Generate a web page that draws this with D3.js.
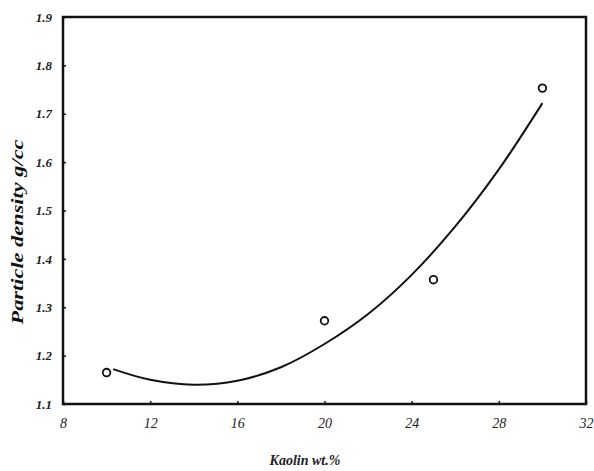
<!DOCTYPE html>
<html>
<head>
<meta charset="utf-8">
<title>Particle density vs kaolin</title>
<style>
  body { margin: 0; background: #fff; }
  text { font-family: "Liberation Serif", "DejaVu Serif", serif; font-style: italic; }
</style>
</head>
<body>
<script src="https://d3js.org/d3.v7.min.js"></script>
<script>
// measured points
const kaolin = [10, 20, 25, 30];
const density = [1.165, 1.272, 1.357, 1.753];

// fitted curve
const fitX = [10.3, 12, 14, 16, 18, 20, 22, 24, 26, 28, 30];
const fitY = [1.172, 1.15, 1.14, 1.148, 1.176, 1.224, 1.286, 1.367, 1.467, 1.585, 1.722];

const xTicks = [8, 12, 16, 20, 24, 28, 32];
const yTicks = [1.1, 1.2, 1.3, 1.4, 1.5, 1.6, 1.7, 1.8, 1.9];

const w = 594, h = 471;
const m = {left: 63, right: 8, top: 17, bottom: 67};

const svg = d3.select("body").append("svg")
  .attr("width", w)
  .attr("height", h);

const x = d3.scaleLinear().domain([8, 32]).range([m.left, w - m.right]);
const y = d3.scaleLinear().domain([1.1, 1.9]).range([h - m.bottom, m.top]);

// frame
svg.append("rect")
  .attr("x", x(8)).attr("y", y(1.9))
  .attr("width", x(32) - x(8))
  .attr("height", y(1.1) - y(1.9))
  .attr("fill", "none")
  .attr("stroke", "#111")
  .attr("stroke-width", 2.5);

// axes (ticks inward, labels only)
const xAxis = d3.axisBottom(x).tickValues(xTicks).tickSize(-3).tickPadding(11).tickFormat(d3.format("d"));
const yAxis = d3.axisLeft(y).tickValues(yTicks).tickSize(-3).tickPadding(11).tickFormat(d3.format(".1f"));

const gx = svg.append("g").attr("transform", `translate(0,${y(1.1)})`).call(xAxis);
const gy = svg.append("g").attr("transform", `translate(${x(8)},0)`).call(yAxis);

[gx, gy].forEach(g => {
  g.select(".domain").remove();
  g.selectAll("line").attr("stroke", "#111").attr("stroke-width", 1.5);
  g.selectAll("text")
    .attr("fill", "#222")
    .style("font-size", "13px")
    .style("font-family", "'Liberation Serif', serif")
    .style("font-style", "italic");
});
gy.selectAll("text").style("font-weight", "bold");
gx.selectAll("text").attr("dy", "0.9em").style("font-size", "14px");

// fitted curve
const line = d3.line()
  .x((d, i) => x(fitX[i]))
  .y(d => y(d))
  .curve(d3.curveCatmullRom);

svg.append("path")
  .datum(fitY)
  .attr("d", line)
  .attr("fill", "none")
  .attr("stroke", "#111")
  .attr("stroke-width", 2);

// data points
svg.selectAll("circle.pt")
  .data(density)
  .enter()
  .append("circle")
  .attr("class", "pt")
  .attr("cx", (d, i) => x(kaolin[i]))
  .attr("cy", d => y(d))
  .attr("r", 3.8)
  .attr("fill", "#fff")
  .attr("stroke", "#111")
  .attr("stroke-width", 1.8);

// axis titles
svg.append("text")
  .attr("x", 305)
  .attr("y", 465)
  .attr("text-anchor", "middle")
  .style("font-size", "14px")
  .style("font-weight", "bold")
  .attr("fill", "#222")
  .text("Kaolin wt.%");

svg.append("text")
  .attr("transform", "translate(23,232) rotate(-90)")
  .attr("text-anchor", "middle")
  .attr("textLength", 185)
  .attr("lengthAdjust", "spacingAndGlyphs")
  .style("font-size", "16px")
  .style("font-weight", "bold")
  .attr("fill", "#111")
  .text("Particle density g/cc");
</script>
</body>
</html>
